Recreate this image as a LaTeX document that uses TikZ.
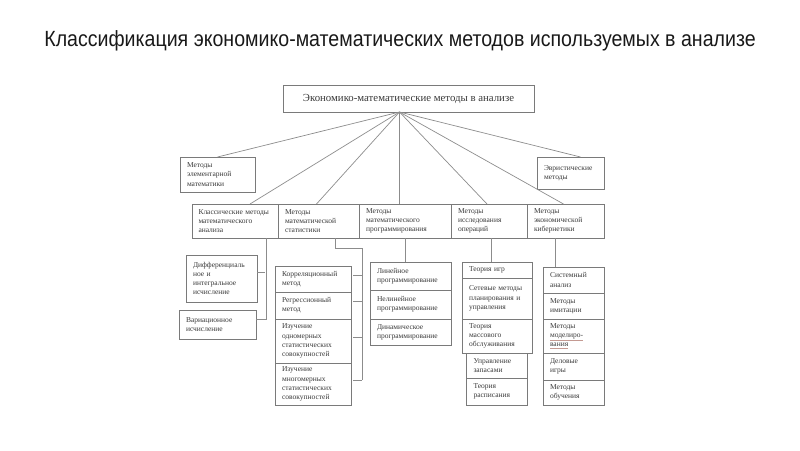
\documentclass[tikz,border=0pt]{standalone}
\usepackage{fontspec}
\setmainfont{Liberation Serif}
\newfontfamily\headfont[FakeStretch=0.89]{Liberation Sans}
\usetikzlibrary{positioning,calc}
\definecolor{ink}{HTML}{3A3A3A}
\definecolor{frame}{HTML}{7A7A7A}
\definecolor{wire}{HTML}{8C8C8C}
\definecolor{spell}{HTML}{C49A92}
\newcommand{\boxfont}{\fontsize{7.5}{9.2}\selectfont}
\newcommand{\spellmark}[1]{{\color{spell}\underline{\color{ink}#1}}}
\tikzset{
  cell/.style={draw=frame, line width=0.7pt, fill=white, text=ink, font=\boxfont,
    align=left, inner xsep=7pt, inner ysep=0pt, outer sep=0pt},
  link/.style={draw=wire, line width=0.7pt},
}

\begin{document}
\begin{tikzpicture}[x=1pt, y=-1pt]
  \useasboundingbox (0,0) rectangle (800,450);

  % title
  \node[font=\headfont\fontsize{22}{25}\selectfont, text=black!90] (title) at (400,41)
    {Классификация экономико-математических методов используемых в анализе};

  % root
  \node[cell, anchor=north west, minimum width=251pt, minimum height=27pt, align=center,
    inner xsep=0pt, font=\fontsize{10.8}{12}\selectfont] (root) at (283,85)
    {Экономико-математические методы в анализе};
  \coordinate (hub) at ([xshift=-9pt]root.south);

  % side groups
  \node[cell, anchor=north west, minimum width=75pt, text width=61pt, minimum height=35pt] (elem) at (180,157)
    {Методы\\элементарной\\математики};
  \node[cell, anchor=north west, minimum width=67pt, text width=53pt, minimum height=32pt] (heur) at (537,157)
    {Эвристические\\методы};

  % main row
  \node[cell, anchor=north west, minimum width=86pt, text width=73pt, inner xsep=6.5pt, minimum height=34pt] (c1) at (192,204)
    {Классические методы\\математического\\анализа};
  \node[cell, right=0pt of c1, minimum width=81pt, text width=67pt, minimum height=34pt] (c2)
    {Методы\\математической\\статистики};
  \node[cell, right=0pt of c2, minimum width=92pt, text width=78pt, minimum height=34pt] (c3)
    {Методы\\математического\\программирования};
  \node[cell, right=0pt of c3, minimum width=76pt, text width=62pt, minimum height=34pt] (c4)
    {Методы\\исследования\\операций};
  \node[cell, right=0pt of c4, minimum width=77pt, text width=63pt, minimum height=34pt] (c5)
    {Методы\\экономической\\кибернетики};

  % fan from the root
  \foreach \t/\dx in {elem/0, c1/15, c2/-2, c4/-2, c5/-2, heur/10}
    \draw[link] (hub) -- ([xshift=\dx pt]\t.north);
  \draw[link] (hub) -- (hub |- c3.north);

  % mathematical analysis
  \node[cell, anchor=north west, minimum width=71pt, text width=57pt, minimum height=47pt] (diff) at (186,255)
    {Дифференциаль\\ное и\\интегральное\\исчисление};
  \node[cell, anchor=north west, minimum width=77pt, text width=63pt, minimum height=29pt] (var) at (179,310)
    {Вариационное\\исчисление};
  \draw[link] ([xshift=31pt]c1.south) |- ([yshift=5pt]var.east);
  \draw[link] ([yshift=6pt]diff.east) -- ++(8pt,0);

  % statistics
  \node[cell, anchor=north west, minimum width=76pt, text width=62pt, minimum height=26pt] (s1) at (275,266)
    {Корреляционный\\метод};
  \node[cell, below=0pt of s1, minimum width=76pt, text width=62pt, minimum height=27pt] (s2)
    {Регрессионный\\метод};
  \node[cell, below=0pt of s2, minimum width=76pt, text width=62pt, minimum height=44pt] (s3)
    {Изучение\\одномерных\\статистических\\совокупностей};
  \node[cell, below=0pt of s3, minimum width=76pt, text width=62pt, minimum height=42pt] (s4)
    {Изучение\\многомерных\\статистических\\совокупностей};
  \coordinate (sbar) at ([shift={(11pt,0pt)}]s1.north east |- 0,248);
  \draw[link] ([xshift=17pt]c2.south) |- (sbar) -- ([shift={(11pt,4pt)}]s4.east);
  \foreach \s in {s1,s2,s3,s4}
    \draw[link] ([shift={(2pt,4pt)}]\s.east) -- ++(9pt,0);

  % programming
  \node[cell, anchor=north west, minimum width=81pt, text width=67pt, minimum height=28pt] (p1) at (370,262)
    {Линейное\\программирование};
  \node[cell, below=0pt of p1, minimum width=81pt, text width=67pt, minimum height=29pt] (p2)
    {Нелинейное\\программирование};
  \node[cell, below=0pt of p2, minimum width=81pt, text width=67pt, minimum height=26pt] (p3)
    {Динамическое\\программирование};
  \draw[link] (c3.south) -- (c3.south |- p1.north);

  % operations research
  \node[cell, anchor=north west, minimum width=70pt, text width=56pt, minimum height=16pt] (o1) at (462,262)
    {Теория игр};
  \node[cell, below=0pt of o1, minimum width=70pt, text width=56pt, minimum height=41pt] (o2)
    {Сетевые методы\\планирования и\\управления};
  \node[cell, below=0pt of o2, minimum width=70pt, text width=56pt, minimum height=34pt] (o3)
    {Теория\\массового\\обслуживания};
  \node[cell, below=0pt of o3, minimum width=61pt, text width=47pt, minimum height=25pt] (o4)
    {Управление\\запасами};
  \node[cell, below=0pt of o4, minimum width=61pt, text width=47pt, minimum height=27pt] (o5)
    {Теория\\расписания};
  \draw[link] ([xshift=2pt]c4.south) -- ([xshift=2pt]c4.south |- o1.north);

  % cybernetics
  \node[cell, anchor=north west, minimum width=61pt, text width=47pt, minimum height=26pt] (k1) at (543,267)
    {Системный\\анализ};
  \node[cell, below=0pt of k1, minimum width=61pt, text width=47pt, minimum height=26pt] (k2)
    {Методы\\имитации};
  \node[cell, below=0pt of k2, minimum width=61pt, text width=47pt, minimum height=34pt] (k3)
    {Методы\\\spellmark{моделиро-}\\\spellmark{вания}};
  \node[cell, below=0pt of k3, minimum width=61pt, text width=47pt, minimum height=27pt] (k4)
    {Деловые\\игры};
  \node[cell, below=0pt of k4, minimum width=61pt, text width=47pt, minimum height=25pt] (k5)
    {Методы\\обучения};
  \draw[link] ([xshift=-10pt]c5.south) -- ([xshift=-10pt]c5.south |- k1.north);
\end{tikzpicture}
\end{document}
